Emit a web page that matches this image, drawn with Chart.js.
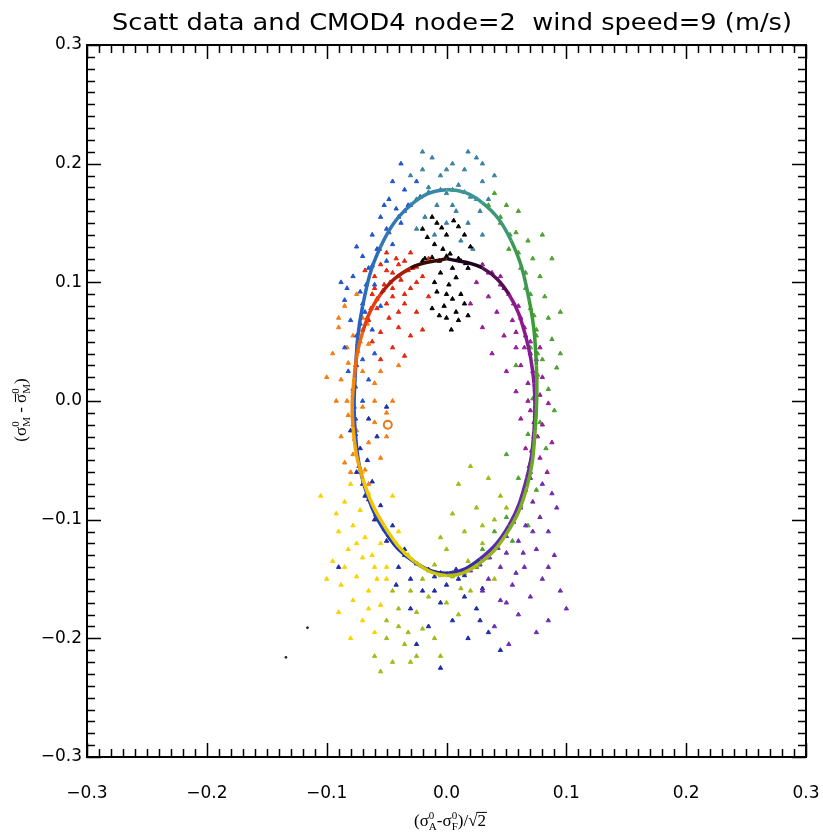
<!DOCTYPE html>
<html>
<head>
<meta charset="utf-8">
<script src="https://cdn.jsdelivr.net/npm/chart.js@4.4.0/dist/chart.umd.min.js"></script>
<style>
  html, body { margin: 0; padding: 0; background: #fff; overflow: hidden; }
  #wrap { width: 823px; height: 836px; }
  canvas { display: block; }
</style>
</head>
<body>
<div id="wrap"><canvas id="scattChart"></canvas></div>
<script>
// axis range and tick labels
const axisMin = -0.3, axisMax = 0.3;
const tickValues = [-0.3, -0.2, -0.1, 0.0, 0.1, 0.2, 0.3];

// CMOD4 model curve, every 10 deg of wind direction
const curvePhi = [0, 10, 20, 30, 40, 50, 60, 70, 80, 90, 100, 110, 120, 130, 140, 150, 160, 170, 180,
                  190, 200, 210, 220, 230, 240, 250, 260, 270, 280, 290, 300, 310, 320, 330, 340, 350, 360];
const curveX = [0.000, 0.030, 0.052, 0.066, 0.073, 0.073, 0.067, 0.052, 0.028, 0.002,
                -0.025, -0.050, -0.068, -0.076, -0.076, -0.070, -0.055, -0.030, 0.000,
                0.030, 0.054, 0.069, 0.075, 0.074, 0.067, 0.050, 0.026, 0.000,
                -0.027, -0.052, -0.070, -0.078, -0.077, -0.070, -0.055, -0.030, 0.000];
const curveY = [0.120, 0.112, 0.090, 0.055, 0.015, -0.025, -0.065, -0.105, -0.133, -0.145,
                -0.137, -0.112, -0.073, -0.028, 0.025, 0.080, 0.130, 0.165, 0.178,
                0.167, 0.135, 0.085, 0.030, -0.025, -0.073, -0.112, -0.138, -0.147,
                -0.135, -0.105, -0.065, -0.022, 0.020, 0.058, 0.090, 0.112, 0.120];

// scatterometer data, grouped by wind direction colour
const blackPts = [[-0.012,0.155],[-0.008,0.150],[-0.004,0.146],[0.000,0.140],[0.006,0.152],[0.010,0.147],
  [-0.016,0.138],[-0.010,0.132],[-0.003,0.128],[0.003,0.124],[-0.006,0.118],[0.012,0.118],[0.018,0.112],
  [-0.018,0.120],[0.008,0.104],[0.002,0.098],[-0.008,0.092],[0.005,0.086],[0.012,0.090],[-0.002,0.080],
  [0.008,0.075],[0.015,0.082],[0.000,0.070],[0.010,0.068],[-0.006,0.072],[0.004,0.060],
  [-0.020,0.118],[-0.012,0.121],[0.000,0.122],[0.010,0.120],[0.016,0.116],[-0.005,0.108],[0.005,0.112],
  [0.020,0.130],[-0.020,0.145],[0.015,0.140],[-0.010,0.100],[0.018,0.072],[0.000,0.090],[-0.012,0.078]];
const purplePts = [[0.030,0.115],[0.038,0.108],[0.025,0.100],[0.045,0.098],[0.052,0.090],[0.035,0.088],
  [0.060,0.080],[0.020,0.082],[0.042,0.075],[0.055,0.068],[0.065,0.062],[0.030,0.062],[0.048,0.055],
  [0.070,0.050],[0.058,0.045],[0.038,0.040],[0.075,0.035],[0.062,0.030],[0.050,0.025],[0.080,0.020],
  [0.068,0.015],[0.058,0.008],[0.078,0.005],[0.085,-0.002],[0.070,-0.008],[0.062,-0.015],[0.080,-0.020],
  [0.073,-0.030],[0.088,-0.035],[0.066,-0.040],[0.078,-0.048],[0.084,-0.060],
  [0.035,0.108],[0.048,0.095],[0.056,0.082],[0.062,0.070],[0.066,0.055],[0.070,0.040],[0.072,0.025],
  [0.074,0.010],[0.074,-0.005],[0.073,-0.018],[0.076,-0.030],[0.071,-0.042],[0.069,-0.055],[0.065,0.045],
  [0.068,0.000],[0.078,0.045],[0.058,0.058],[0.045,0.105],[0.070,-0.065]];
const violetPts = [[0.070,-0.060],[0.080,-0.070],[0.088,-0.078],[0.072,-0.085],[0.092,-0.090],[0.078,-0.098],
  [0.066,-0.105],[0.085,-0.110],[0.060,-0.118],[0.075,-0.125],[0.050,-0.128],[0.090,-0.130],[0.065,-0.140],
  [0.045,-0.140],[0.080,-0.150],[0.055,-0.155],[0.035,-0.150],[0.095,-0.160],[0.070,-0.165],[0.045,-0.168],
  [0.060,-0.180],[0.085,-0.185],[0.040,-0.190],[0.075,-0.195],[0.052,-0.205],[0.030,-0.160],
  [0.066,-0.075],[0.062,-0.090],[0.056,-0.102],[0.050,-0.114],[0.043,-0.124],[0.036,-0.132],[0.028,-0.138],
  [0.020,-0.143],[0.072,-0.110],[0.085,-0.140],[0.100,-0.175],[0.050,-0.170],[0.064,-0.128],[0.058,-0.145]];
const navyPts = [[0.020,-0.140],[0.010,-0.150],[0.000,-0.155],[-0.010,-0.148],[0.030,-0.158],[0.015,-0.165],
  [-0.005,-0.170],[0.025,-0.175],[-0.020,-0.160],[0.005,-0.185],[-0.015,-0.190],[0.035,-0.195],[0.018,-0.200],
  [-0.030,-0.150],[-0.040,-0.140],[-0.035,-0.125],[-0.050,-0.118],[-0.045,-0.105],[-0.060,-0.100],
  [-0.055,-0.088],[-0.068,-0.080],[-0.062,-0.068],[-0.075,-0.060],[-0.066,-0.050],[-0.072,-0.040],
  [-0.058,-0.030],[-0.080,-0.025],[-0.065,-0.015],[-0.050,-0.005],[-0.090,-0.140],[-0.025,-0.205],
  [0.045,-0.210],[-0.005,-0.225],
  [-0.005,-0.145],[-0.015,-0.142],[-0.025,-0.137],[-0.035,-0.130],[-0.043,-0.120],[-0.052,-0.108],
  [-0.059,-0.096],[-0.065,-0.083],[-0.070,-0.070],[-0.073,-0.055],[-0.075,-0.040],[-0.076,-0.028],
  [-0.076,-0.015],[0.008,-0.142],[0.015,-0.147],[-0.010,-0.160],[-0.030,-0.175],[0.028,-0.185],[-0.042,-0.155]];
const bluePts = [[-0.070,0.000],[-0.078,0.010],[-0.065,0.018],[-0.082,0.025],[-0.070,0.035],[-0.060,0.040],
  [-0.085,0.045],[-0.075,0.055],[-0.062,0.060],[-0.080,0.068],[-0.068,0.075],[-0.055,0.080],[-0.085,0.085],
  [-0.072,0.092],[-0.060,0.098],[-0.078,0.105],[-0.065,0.112],[-0.050,0.118],[-0.070,0.122],[-0.058,0.128],
  [-0.045,0.132],[-0.062,0.140],[-0.050,0.145],[-0.038,0.150],[-0.055,0.155],[-0.042,0.162],[-0.030,0.165],
  [-0.048,0.170],[-0.035,0.178],[-0.025,0.185],[-0.038,0.200],
  [-0.077,-0.005],[-0.076,0.012],[-0.075,0.030],[-0.074,0.048],[-0.072,0.065],[-0.070,0.082],[-0.067,0.098],
  [-0.062,0.114],[-0.056,0.128],[-0.048,0.142],[-0.040,0.155],[-0.032,0.165],[-0.022,0.172],[-0.088,0.100],
  [-0.083,0.095],[-0.075,0.130],[-0.045,0.185],[-0.052,0.165]];
const tealPts = [[-0.030,0.190],[-0.020,0.195],[-0.012,0.205],[-0.005,0.190],[0.005,0.200],[0.015,0.195],
  [0.025,0.205],[-0.015,0.180],[0.000,0.175],[0.010,0.182],[0.020,0.172],[0.030,0.185],[-0.025,0.170],
  [-0.008,0.165],[0.008,0.160],[0.018,0.150],[-0.018,0.155],[0.028,0.160],[0.000,0.150],[-0.010,0.140],
  [0.012,0.135],[0.035,0.170],[0.040,0.190],[-0.035,0.160],[0.022,0.128],
  [-0.015,0.176],[-0.005,0.178],[0.005,0.178],[0.015,0.176],[0.025,0.170],[-0.020,0.210],[0.030,0.200],
  [0.005,0.165],[-0.025,0.145],[0.030,0.140],[0.018,0.210],[0.000,0.195]];
const greenPts = [[0.040,0.175],[0.050,0.165],[0.060,0.160],[0.045,0.150],[0.058,0.142],[0.068,0.135],
  [0.052,0.128],[0.072,0.120],[0.062,0.112],[0.078,0.105],[0.066,0.095],[0.082,0.088],[0.070,0.078],
  [0.085,0.070],[0.075,0.060],[0.088,0.052],[0.070,0.045],[0.080,0.035],[0.092,0.028],[0.075,0.020],
  [0.085,0.010],[0.072,0.002],[0.090,-0.008],[0.078,-0.018],[0.068,-0.028],[0.083,-0.040],[0.070,-0.052],
  [0.060,-0.065],[0.075,-0.075],[0.062,-0.088],[0.050,-0.098],[0.068,-0.105],[0.040,-0.110],[0.055,-0.118],
  [0.030,-0.125],[0.095,0.075],[0.058,0.030],[0.050,-0.045],
  [0.035,0.165],[0.045,0.155],[0.053,0.140],[0.060,0.125],[0.066,0.108],[0.070,0.090],[0.073,0.072],
  [0.075,0.055],[0.076,0.040],[0.076,0.022],[0.075,0.005],[0.074,-0.012],[0.073,-0.030],[0.071,-0.048],
  [0.068,-0.062],[0.064,-0.078],[0.058,-0.095],[0.050,-0.110],[0.042,-0.122],[0.034,-0.132],[0.025,-0.140],
  [0.088,0.120],[0.080,0.140],[0.095,0.040]];
const olivePts = [[0.020,-0.055],[0.035,-0.065],[0.010,-0.070],[0.045,-0.080],[0.025,-0.090],[0.005,-0.095],
  [0.040,-0.100],[0.015,-0.110],[0.030,-0.120],[0.000,-0.125],[0.018,-0.135],[-0.010,-0.138],[0.005,-0.145],
  [-0.020,-0.150],[0.012,-0.158],[-0.015,-0.165],[-0.030,-0.160],[0.000,-0.170],[-0.025,-0.178],
  [0.010,-0.180],[-0.040,-0.175],[-0.020,-0.192],[-0.032,-0.195],[-0.010,-0.200],[-0.035,-0.205],
  [-0.050,-0.185],[-0.045,-0.160],[-0.025,-0.215],[-0.060,-0.215],[-0.055,-0.228],[-0.005,-0.215],
  [0.015,-0.145],[0.005,-0.148],[-0.005,-0.147],[-0.015,-0.143],[-0.025,-0.137],[-0.032,-0.130],
  [0.025,-0.140],[0.030,-0.105],[-0.005,-0.115],[0.050,-0.090],[0.040,-0.150],[-0.040,-0.190],
  [-0.050,-0.200],[0.020,-0.160],[-0.030,-0.220],[-0.045,-0.220]];
const yellowPts = [[-0.070,-0.060],[-0.080,-0.070],[-0.065,-0.078],[-0.085,-0.085],[-0.072,-0.092],
  [-0.060,-0.100],[-0.078,-0.105],[-0.090,-0.110],[-0.068,-0.115],[-0.055,-0.120],[-0.082,-0.125],
  [-0.070,-0.132],[-0.095,-0.135],[-0.060,-0.140],[-0.075,-0.148],[-0.050,-0.150],[-0.088,-0.155],
  [-0.065,-0.160],[-0.078,-0.168],[-0.055,-0.172],[-0.090,-0.178],[-0.070,-0.185],[-0.060,-0.195],
  [-0.080,-0.200],[-0.100,-0.150],[-0.045,-0.080],[-0.040,-0.110],[-0.105,-0.080],
  [-0.035,-0.128],[-0.042,-0.120],[-0.050,-0.110],[-0.057,-0.098],[-0.063,-0.085],[-0.068,-0.072],
  [-0.072,-0.058],[-0.075,-0.045],[-0.062,-0.130],[-0.050,-0.140],[-0.085,-0.140],[-0.065,-0.175],
  [-0.058,-0.150],[-0.092,-0.095],[-0.075,-0.120]];
const orangePts = [[-0.075,0.090],[-0.085,0.080],[-0.070,0.070],[-0.090,0.062],[-0.078,0.055],[-0.065,0.048],
  [-0.095,0.040],[-0.082,0.032],[-0.070,0.025],[-0.088,0.018],[-0.060,0.015],[-0.078,0.008],[-0.092,0.000],
  [-0.070,-0.005],[-0.082,-0.012],[-0.060,-0.018],[-0.075,-0.025],[-0.088,-0.030],[-0.065,-0.035],
  [-0.078,-0.045],[-0.055,-0.048],[-0.085,-0.052],[-0.068,-0.058],[-0.050,-0.030],[-0.045,0.000],
  [-0.040,0.030],[-0.100,0.020],[-0.050,-0.010],
  [-0.077,-0.032],[-0.078,-0.020],[-0.078,-0.008],[-0.078,0.005],[-0.077,0.018],[-0.076,0.030],
  [-0.074,0.042],[-0.072,0.050],[-0.070,0.060],[-0.066,0.065],[-0.083,0.045],[-0.083,0.000],
  [-0.080,-0.060],[-0.060,0.000],[-0.055,0.025],[-0.065,-0.070],[-0.090,0.070]];
const redPts = [[-0.050,0.125],[-0.042,0.120],[-0.035,0.118],[-0.055,0.115],[-0.028,0.112],[-0.045,0.108],
  [-0.060,0.105],[-0.038,0.102],[-0.020,0.105],[-0.052,0.098],[-0.030,0.095],[-0.062,0.090],[-0.045,0.088],
  [-0.035,0.082],[-0.058,0.078],[-0.025,0.075],[-0.048,0.070],[-0.065,0.068],[-0.040,0.062],[-0.055,0.058],
  [-0.030,0.055],[-0.062,0.050],[-0.045,0.045],[-0.035,0.038],[-0.055,0.035],[-0.015,0.088],[-0.020,0.060],
  [-0.068,0.110],
  [-0.025,0.113],[-0.032,0.110],[-0.040,0.105],[-0.047,0.100],[-0.053,0.093],[-0.058,0.086],[-0.063,0.078],
  [-0.066,0.070],[-0.030,0.125],[-0.040,0.115],[-0.050,0.110],[-0.045,0.095],[-0.035,0.090],[-0.060,0.095],
  [-0.025,0.100],[-0.050,0.082],[-0.040,0.075],[-0.015,0.120]];
const strayPts = [[-0.116,-0.191],[-0.134,-0.216]];
const circlePts = [[-0.049,-0.020]];

// colour table along wind direction (IDL rainbow-like)
const phiStops = [[0,[0,0,0]],[25,[140,25,140]],[70,[100,45,170]],[95,[30,40,160]],[130,[30,80,205]],
  [165,[50,120,180]],[185,[60,150,150]],[215,[60,155,50]],[255,[150,180,30]],[290,[245,210,0]],
  [320,[240,125,15]],[340,[225,40,15]],[360,[0,0,0]]];

function phiColor(phi) {
  for (let i = 0; i < phiStops.length - 1; i++) {
    const [p0, c0] = phiStops[i], [p1, c1] = phiStops[i + 1];
    if (phi <= p1) {
      const t = (phi - p0) / (p1 - p0);
      const c = c0.map((v, k) => Math.round(v + (c1[k] - v) * t));
      return `rgb(${c[0]},${c[1]},${c[2]})`;
    }
  }
  return 'rgb(0,0,0)';
}

const toXY = pts => pts.map(p => ({ x: p[0], y: p[1] }));

function pointSet(pts, color, style, radius) {
  return {
    data: toXY(pts),
    backgroundColor: color,
    borderColor: color,
    borderWidth: 1,
    pointStyle: style || 'triangle',
    pointRadius: radius || 2.5,
    order: 1
  };
}

function fmtTick(v) {
  const s = Math.abs(v) < 1e-9 ? '0.0' : v.toFixed(1);
  return s.replace('-', '\u2212');
}

// draws text with stacked super/subscripts
function drawRich(ctx, parts, cx, baseline, size, family) {
  const small = Math.round(size * 0.62);
  const big = `${size}px ${family}`, sm = `${small}px ${family}`;
  let total = 0;
  const widths = parts.map(p => {
    ctx.font = big;
    const w0 = ctx.measureText(p.t).width;
    ctx.font = sm;
    const w1 = Math.max(p.sup ? ctx.measureText(p.sup).width : 0, p.sub ? ctx.measureText(p.sub).width : 0);
    total += w0 + w1;
    return [w0, w1];
  });
  let x = cx - total / 2;
  parts.forEach((p, i) => {
    const [w0, w1] = widths[i];
    ctx.font = big;
    ctx.fillText(p.t, x, baseline);
    if (p.bar) {
      ctx.beginPath();
      ctx.moveTo(x + 1, baseline - size * 0.62);
      ctx.lineTo(x + w0, baseline - size * 0.62);
      ctx.lineWidth = 1;
      ctx.stroke();
    }
    if (p.over) {
      ctx.beginPath();
      ctx.moveTo(x - 1, baseline - size * 0.8);
      ctx.lineTo(x + w0 + 1, baseline - size * 0.8);
      ctx.lineWidth = 1;
      ctx.stroke();
    }
    ctx.font = sm;
    if (p.sup) ctx.fillText(p.sup, x + w0, baseline - size * 0.42);
    if (p.sub) ctx.fillText(p.sub, x + w0, baseline + size * 0.22);
    x += w0 + w1;
  });
}

const idlFrame = {
  id: 'idlFrame',
  afterDraw(chart) {
    const { ctx, chartArea: a, scales: { x, y } } = chart;
    ctx.save();
    ctx.strokeStyle = '#000';
    ctx.fillStyle = '#000';
    ctx.lineWidth = 2;
    ctx.strokeRect(a.left, a.top, a.right - a.left, a.bottom - a.top);
    ctx.lineWidth = 1.5;
    ctx.beginPath();
    for (let i = 0; i <= 60; i++) {
      const v = axisMin + i * 0.01;
      const len = i % 10 === 0 ? 14 : 8;
      const px = Math.round(x.getPixelForValue(v)) + 0.5;
      const py = Math.round(y.getPixelForValue(v)) + 0.5;
      ctx.moveTo(px, a.bottom); ctx.lineTo(px, a.bottom - len);
      ctx.moveTo(px, a.top); ctx.lineTo(px, a.top + len);
      ctx.moveTo(a.left, py); ctx.lineTo(a.left + len, py);
      ctx.moveTo(a.right, py); ctx.lineTo(a.right - len, py);
    }
    ctx.stroke();

    // title
    const title = 'Scatt data and CMOD4 node=2  wind speed=9 (m/s)';
    ctx.font = '23px "DejaVu Sans"';
    const tw = ctx.measureText(title).width;
    ctx.save();
    ctx.translate(452, 30);
    ctx.scale(680 / tw, 1);
    ctx.textAlign = 'center';
    ctx.fillText(title, 0, 0);
    ctx.restore();

    // axis titles
    const serif = '"Liberation Serif", "DejaVu Serif", serif';
    ctx.textAlign = 'left';
    ctx.textBaseline = 'alphabetic';
    drawRich(ctx, [
      { t: '(\u03c3', sup: '0', sub: 'A' },
      { t: '-\u03c3', sup: '0', sub: 'F' },
      { t: ')/\u221a' },
      { t: '2', over: true }
    ], 450, 826, 17, serif);
    ctx.save();
    ctx.translate(26, 410);
    ctx.rotate(-Math.PI / 2);
    drawRich(ctx, [
      { t: '(\u03c3', sup: '0', sub: 'M' },
      { t: ' - ' },
      { t: '\u03c3', bar: true, sup: '0', sub: 'M' },
      { t: ')' }
    ], 0, 0, 17, serif);
    ctx.restore();
    ctx.restore();
  }
};

const ctx = document.getElementById('scattChart').getContext('2d');
new Chart(ctx, {
  type: 'scatter',
  data: {
    datasets: [
      {
        data: curveX.map((v, i) => ({ x: v, y: curveY[i] })),
        showLine: true,
        borderWidth: 3.5,
        pointRadius: 0,
        tension: 0.4,
        segment: { borderColor: c => phiColor(curvePhi[c.p0DataIndex] + 5) },
        order: 0
      },
      pointSet(blackPts, 'rgb(0,0,0)'),
      pointSet(purplePts, 'rgb(150,30,150)'),
      pointSet(violetPts, 'rgb(110,45,175)'),
      pointSet(navyPts, 'rgb(30,45,165)'),
      pointSet(bluePts, 'rgb(35,85,205)'),
      pointSet(tealPts, 'rgb(60,130,160)'),
      pointSet(greenPts, 'rgb(80,160,50)'),
      pointSet(olivePts, 'rgb(165,185,30)'),
      pointSet(yellowPts, 'rgb(250,210,0)'),
      pointSet(orangePts, 'rgb(245,125,20)'),
      pointSet(redPts, 'rgb(225,40,15)'),
      pointSet(strayPts, 'rgb(40,40,40)', 'circle', 1),
      { data: toXY(circlePts), pointStyle: 'circle', pointRadius: 4, borderWidth: 2,
        borderColor: 'rgb(230,120,30)', backgroundColor: 'rgba(0,0,0,0)', order: 1 }
    ]
  },
  options: {
    responsive: true,
    maintainAspectRatio: false,
    animation: false,
    layout: { padding: { top: 45, right: 0, left: 0, bottom: 0 } },
    plugins: { legend: { display: false }, tooltip: { enabled: false }, title: { display: false } },
    scales: {
      x: {
        type: 'linear', min: axisMin, max: axisMax,
        afterBuildTicks: s => { s.ticks = tickValues.map(v => ({ value: v })); },
        afterFit: s => { s.height = 79; s.paddingRight = 17; s.paddingLeft = 0; },
        grid: { display: false, drawTicks: false },
        border: { display: false },
        ticks: { padding: 26, color: '#000', font: { family: 'DejaVu Sans', size: 17 }, callback: fmtTick, maxRotation: 0 }
      },
      y: {
        type: 'linear', min: axisMin, max: axisMax,
        afterBuildTicks: s => { s.ticks = tickValues.map(v => ({ value: v })); },
        afterFit: s => { s.width = 87; s.paddingTop = 0; s.paddingBottom = 0; },
        grid: { display: false, drawTicks: false },
        border: { display: false },
        ticks: { padding: 5, color: '#000', font: { family: 'DejaVu Sans', size: 17 }, callback: fmtTick }
      }
    }
  },
  plugins: [idlFrame]
});
</script>
</body>
</html>
